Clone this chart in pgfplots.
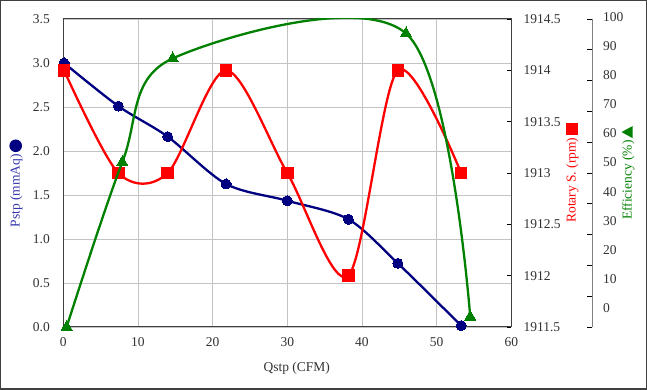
\documentclass[border=0pt]{standalone}
\usepackage{pgfplots}
\pgfplotsset{compat=1.18}
\usepackage{fontspec}
\setmainfont{Liberation Serif}
\definecolor{navy}{RGB}{0,0,128}
\definecolor{pblue}{RGB}{51,51,170}
\definecolor{egreen}{RGB}{0,128,0}
\definecolor{gridgray}{RGB}{195,195,195}
\definecolor{framegray}{RGB}{64,64,64}
\definecolor{txtgray}{RGB}{50,50,50}
\pgfplotsset{
  every axis/.append style={
    scale only axis, width=448pt, height=308pt,
    /pgf/number format/assume math mode=true,
    /pgf/number format/1000 sep={},
    tick label style={txtgray},
  }
}
\begin{document}
\fontsize{13.5}{16}\selectfont
\begin{tikzpicture}
\useasboundingbox (-63.3pt,-63pt) rectangle (583.7pt,327pt);
\draw[framegray, line width=1.5pt] (-62.55pt,-62.25pt) rectangle (582.95pt,326.25pt);

% main axis: Pstp
\begin{axis}[
  xmin=0, xmax=60, ymin=0, ymax=3.5,
  xtick={0,10,...,60}, ytick={0,0.5,...,3.5},
  grid=major, major grid style={gridgray, line width=0.8pt},
  axis line style={black!75, line width=1pt},
  major tick length=0pt,
  yticklabel style={/pgf/number format/fixed, /pgf/number format/fixed zerofill, /pgf/number format/precision=1, xshift=-8.8pt},
  xticklabel style={yshift=-6pt},
  xlabel={Qstp (CFM)},
  xlabel style={txtgray, at={(axis description cs:0.521,-0.133)}, anchor=center},
  ylabel={Pstp (mmAq)\,\tikz[baseline={(0pt,-4pt)}]\fill[navy] (0,0) circle (6.3pt);},
  ylabel style={pblue, at={(axis description cs:-0.1056,0.466)}, anchor=center},
]
\addplot[navy, line width=2.3pt, smooth, tension=0.5, mark=*, mark size=5pt,
  mark options={fill=navy, draw=navy, line width=0pt}] coordinates {
  (0.1,3.000) (7.37,2.510) (13.98,2.163) (21.8,1.625) (30.0,1.435)
  (38.18,1.224) (44.8,0.724) (53.28,0.015)
};
\end{axis}

% Rotary speed axis
\begin{axis}[
  xmin=0, xmax=60, ymin=1911.5, ymax=1914.5,
  axis x line=none, axis y line*=right,
  ytick={1911.5,1912,...,1914.5},
  y axis line style={draw=none},
  tick align=inside, major tick length=4pt,
  tick style={black, line width=0.8pt},
  yticklabel style={xshift=7.5pt},
  ylabel={Rotary S. (rpm)\,\tikz[baseline={(0pt,-4pt)}]\fill[red] (-6pt,-6pt) rectangle (6pt,6pt);},
  ylabel style={red, at={(axis description cs:1.1355,0.5)}, anchor=center},
]
\addplot[red, line width=2.3pt, smooth, tension=0.5, mark=square*, mark size=5.8pt,
  mark options={fill=red, draw=red, line width=0pt}] coordinates {
  (0.1,1914) (7.37,1913) (13.98,1913) (21.8,1914) (30.0,1913)
  (38.18,1912) (44.8,1914) (53.28,1913)
};
\end{axis}

% Efficiency data axis (same box)
\begin{axis}[
  xmin=0, xmax=60, ymin=0, ymax=100,
  hide axis,
]
\addplot[egreen, line width=2.3pt, smooth, tension=0.55, mark=triangle*, mark size=6.5pt,
  mark options={fill=egreen, draw=egreen, line width=0pt}] coordinates {
  (0.45,0) (7.9,53.5) (14.65,87.2) (45.9,95.3) (54.5,3.3)
};
\end{axis}

% Efficiency axis line and ticks (offset)
\begin{axis}[
  at={(81pt,0pt)},
  xmin=0, xmax=60, ymin=0, ymax=100,
  axis x line=none, axis y line*=right,
  y axis line style={gray, line width=1.2pt},
  ytick={0,10,...,100}, yticklabels={},
  tick align=inside, major tick length=5pt,
  tick style={black, line width=0.9pt},
  ylabel={Efficiency (\%)\,\tikz[baseline={(0pt,-4pt)}]\fill[egreen] (-6pt,-5pt) -- (6pt,-5pt) -- (0pt,6pt) -- cycle;},
  ylabel style={egreen, at={(axis description cs:1.0797,0.5)}, anchor=center},
]
\end{axis}

% Efficiency tick labels (Excel places them slightly off the ticks)
\begin{axis}[
  at={(81pt,0pt)}, height=310.3pt,
  xmin=0, xmax=60, ymin=-6.41, ymax=100,
  axis x line=none, axis y line*=right,
  y axis line style={draw=none},
  ytick={0,10,...,100},
  major tick length=0pt,
  yticklabel style={xshift=6pt},
]
\end{axis}
\end{tikzpicture}
\end{document}
